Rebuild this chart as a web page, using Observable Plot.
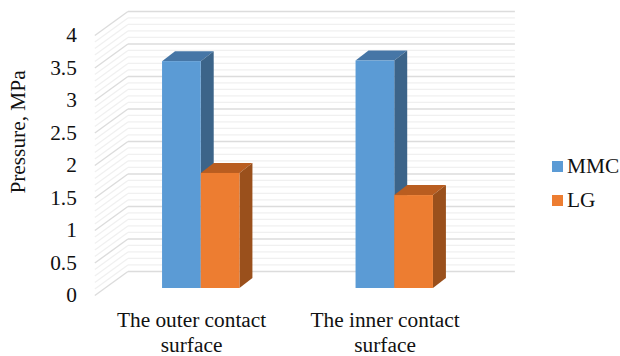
<!DOCTYPE html>
<html>
<head>
<meta charset="utf-8">
<script src="https://cdn.jsdelivr.net/npm/d3@7"></script>
<script src="https://cdn.jsdelivr.net/npm/@observablehq/plot@0.6"></script>
<style>
  html, body { margin: 0; padding: 0; background: #fff; }
  #chart { position: relative; width: 620px; height: 356px; font-family: "Liberation Serif", serif; color: #111; }
  #chart svg { display: block; }
  .legend { position: absolute; left: 552px; top: 149px; font-size: 21.33px; line-height: 34px; }
  .legend div { display: flex; align-items: center; height: 34px; }
  .legend i { display: block; width: 11px; height: 11px; margin-right: 4px; }
</style>
</head>
<body>
<div id="chart"></div>
<script>
const categories = ["The outer contact\nsurface", "The inner contact\nsurface"];
const mmc = [3.49, 3.5];
const lg = [1.77, 1.43];
const majorTicks = [0, 0.5, 1, 1.5, 2, 2.5, 3, 3.5, 4];
const minorTicks = d3.range(0, 41).map(i => i / 10).filter(v => !majorTicks.includes(v));
const colors = {
  MMC: {front: "#5b9bd5", top: "#4676a6", side: "#3c6489"},
  LG: {front: "#ed7d31", top: "#b95d20", side: "#9a501c"}
};

// Oblique projection offsets, expressed in x (category) and y (MPa) units
const barDepth = {x: 0.067, y: 0.154};
const backWall = {x: 0.121, y: 0.262};
const frontEdge = {x: -0.05, y: -0.108};
const barWidth = 0.2;
const fontSize = 21.33;

const gridLines = (ticks) => ticks.map(v => ({
  v,
  fx: frontEdge.x, fy: v + frontEdge.y,
  bx: backWall.x, by: v + backWall.y,
  ex: 2 + backWall.x
}));

function seriesFaces(name, values, offset) {
  const faces = values.map((v, i) => {
    const l = i + 0.5 + offset * barWidth;
    return {key: i, v, l, r: l + barWidth};
  });
  const c = colors[name];
  return [
    Plot.areaX(faces.flatMap(f => [
      {key: f.key, y: f.v, x1: f.l, x2: f.r},
      {key: f.key, y: f.v + barDepth.y, x1: f.l + barDepth.x, x2: f.r + barDepth.x}
    ]), {y: "y", x1: "x1", x2: "x2", z: "key", fill: c.top}),
    Plot.areaY(faces.flatMap(f => [
      {key: f.key, x: f.r, y1: 0, y2: f.v},
      {key: f.key, x: f.r + barDepth.x, y1: barDepth.y, y2: f.v + barDepth.y}
    ]), {x: "x", y1: "y1", y2: "y2", z: "key", fill: c.side}),
    Plot.rect(faces, {x1: "l", x2: "r", y1: 0, y2: "v", fill: c.front})
  ];
}

const plot = Plot.plot({
  width: 620,
  height: 356,
  margin: 0,
  style: {fontFamily: "'Liberation Serif', serif", background: "#fff"},
  x: {type: "linear", domain: [0, 2], range: [104, 491], axis: null},
  y: {type: "linear", domain: [0, 4], range: [288, 28], axis: null},
  marks: [
    // Back wall and side wall gridlines
    Plot.link(gridLines(minorTicks), {x1: "bx", y1: "by", x2: "ex", y2: "by", stroke: "#f0f0f0", strokeWidth: 1.2}),
    Plot.link(gridLines(minorTicks), {x1: "fx", y1: "fy", x2: "bx", y2: "by", stroke: "#f0f0f0", strokeWidth: 1.2}),
    Plot.link(gridLines(majorTicks), {x1: "bx", y1: "by", x2: "ex", y2: "by", stroke: "#dcdcdc", strokeWidth: 1.4}),
    Plot.link(gridLines(majorTicks), {x1: "fx", y1: "fy", x2: "bx", y2: "by", stroke: "#dcdcdc", strokeWidth: 1.4}),
    // Bars: blue first so the orange top face sits over its side face
    ...seriesFaces("MMC", mmc, -1),
    ...seriesFaces("LG", lg, 0),
    // Value axis labels along the front edge of the side wall
    Plot.text(majorTicks, {
      x: frontEdge.x, y: d => d + frontEdge.y, text: d => String(d),
      textAnchor: "end", dx: -18, dy: 0, fontSize, fill: "#111"
    }),
    // Category labels under the floor
    Plot.text(categories, {
      x: (d, i) => i + 0.5 + frontEdge.x, y: 0, text: d => d,
      textAnchor: "middle", lineAnchor: "top", dy: 21, lineHeight: 1.17, fontSize, fill: "#111"
    }),
    // Value axis title
    Plot.text(["Pressure, MPa"], {
      frameAnchor: "left", dx: 18, y: 2, dy: -26.5, rotate: -90,
      textAnchor: "middle", fontSize, fill: "#111"
    })
  ]
});

const chart = document.getElementById("chart");
chart.appendChild(plot);

const legend = document.createElement("div");
legend.className = "legend";
for (const name of ["MMC", "LG"]) {
  const row = document.createElement("div");
  const swatch = document.createElement("i");
  swatch.style.background = colors[name].front;
  row.appendChild(swatch);
  row.appendChild(document.createTextNode(name));
  legend.appendChild(row);
}
chart.appendChild(legend);
</script>
</body>
</html>
